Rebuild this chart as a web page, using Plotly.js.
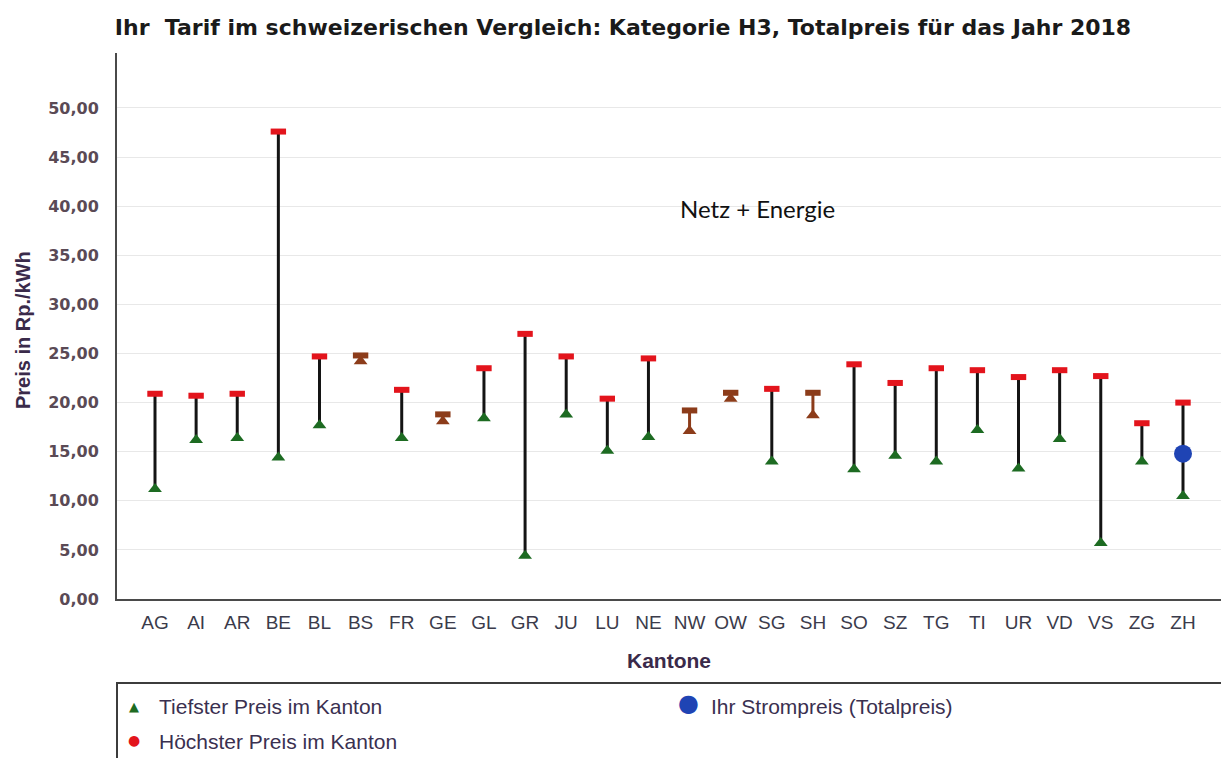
<!DOCTYPE html>
<html>
<head>
<meta charset="utf-8">
<script src="https://cdn.plot.ly/plotly-3.0.1.min.js"></script>
<style>
  html, body { margin: 0; padding: 0; background: #ffffff; }
  #chart { width: 1221px; height: 758px; }
</style>
</head>
<body>
<div id="chart"></div>
<script>
// ---- data ----
const cantons = ['AG','AI','AR','BE','BL','BS','FR','GE','GL','GR','JU','LU','NE','NW','OW','SG','SH','SO','SZ','TG','TI','UR','VD','VS','ZG','ZH'];
const maxPrice = [20.9, 20.7, 20.9, 47.6, 24.7, 24.8, 21.3, 18.8, 23.5, 27.0, 24.7, 20.4, 24.5, 19.2, 21.0, 21.4, 21.0, 23.9, 22.0, 23.5, 23.3, 22.6, 23.3, 22.7, 17.9, 20.0];
const minPrice = [11.2, 16.2, 16.4, 14.4, 17.7, 24.2, 16.4, 18.1, 18.4, 4.4, 18.8, 15.1, 16.5, 17.1, 20.4, 14.0, 18.7, 13.2, 14.6, 14.0, 17.2, 13.3, 16.3, 5.7, 14.0, 10.5];
const narrowCantons = ['BS','GE','NW','OW','SH'];
const ownCanton = ['ZH'];
const ownPrice = [14.8];
const yTickValues = [0, 5, 10, 15, 20, 25, 30, 35, 40, 45, 50];
const yTickLabels = ['0,00','5,00','10,00','15,00','20,00','25,00','30,00','35,00','40,00','45,00','50,00'];
const legendLabels = ['Tiefster Preis im Kanton', 'Höchster Preis im Kanton', 'Ihr Strompreis (Totalpreis)'];
const chartTitle = 'Ihr  Tarif im schweizerischen Vergleich: Kategorie H3, Totalpreis für das Jahr 2018';
const noteText = 'Netz + Energie';

// ---- geometry helpers (pixel -> paper) ----
const W = 1221, H = 758;
const L = 117, R = 0, T = 53, B = 159;
const PW = W - L - R, PH = H - T - B;
const px = x => (x - L) / PW;
const py = y => (H - B - y) / PH;

// ---- colours ----
const cBlack = '#141414', cGreen = '#1d6b22', cRed = '#e3141c', cBrown = '#8c3c1a', cBlue = '#1f44b4';
const cTick = '#5a4a55', cTitle = '#3a2a4a', cLegend = '#3a3050';

// ---- split data ----
function buildLines(filterFn) {
  const xs = [], ys = [];
  cantons.forEach((c, i) => {
    if (filterFn(c)) { xs.push(c, c, null); ys.push(minPrice[i], maxPrice[i], null); }
  });
  return {xs, ys};
}
function pick(arr, filterFn) {
  const xs = [], ys = [];
  cantons.forEach((c, i) => { if (filterFn(c)) { xs.push(c); ys.push(arr[i]); } });
  return {xs, ys};
}
const isNarrow = c => narrowCantons.includes(c);
const isWide = c => !narrowCantons.includes(c);

const wideLines = buildLines(isWide);
const narrowLines = buildLines(isNarrow);
const wideMin = pick(minPrice, isWide), wideMax = pick(maxPrice, isWide);
const narrowMin = pick(minPrice, isNarrow), narrowMax = pick(maxPrice, isNarrow);

const traces = [
  {x: wideLines.xs, y: wideLines.ys, type: 'scatter', mode: 'lines', line: {color: cBlack, width: 3}, connectgaps: false},
  {x: narrowLines.xs, y: narrowLines.ys, type: 'scatter', mode: 'lines', line: {color: cBrown, width: 3}, connectgaps: false},
  {x: wideMin.xs, y: wideMin.ys, type: 'scatter', mode: 'markers', marker: {symbol: 'triangle-up', size: 12, color: cGreen}},
  {x: narrowMin.xs, y: narrowMin.ys, type: 'scatter', mode: 'markers', marker: {symbol: 'triangle-up', size: 12, color: cBrown}},
  {x: wideMax.xs, y: wideMax.ys, type: 'scatter', mode: 'markers', marker: {symbol: 'line-ew', size: 11, color: cRed, line: {color: cRed, width: 6}}},
  {x: narrowMax.xs, y: narrowMax.ys, type: 'scatter', mode: 'markers', marker: {symbol: 'line-ew', size: 11, color: cBrown, line: {color: cBrown, width: 6}}},
  {x: ownCanton, y: ownPrice, type: 'scatter', mode: 'markers', marker: {symbol: 'circle', size: 18, color: cBlue}}
];

const annotations = [
  {text: 'Preis in Rp./kWh', xref: 'paper', yref: 'paper', x: px(23), y: py(330), xanchor: 'center', yanchor: 'middle', textangle: -90, showarrow: false,
   font: {family: 'Liberation Sans, Arial, sans-serif', size: 20, color: cTitle, weight: 'bold'}},
  {text: 'Kantone', xref: 'paper', yref: 'paper', x: px(669), y: py(660), xanchor: 'center', yanchor: 'middle', showarrow: false,
   font: {family: 'Liberation Sans, Arial, sans-serif', size: 21, color: cTitle, weight: 'bold'}},
  {text: noteText, xref: 'paper', yref: 'paper', x: px(678), y: py(208), xanchor: 'left', yanchor: 'middle', showarrow: false,
   font: {family: 'Lato, sans-serif', size: 24, color: '#111111'}},
  // legend glyphs
  {text: '▲', xref: 'paper', yref: 'paper', x: px(134), y: py(706), xanchor: 'center', yanchor: 'middle', showarrow: false,
   font: {family: 'DejaVu Sans', size: 13, color: cGreen}},
  {text: '●', xref: 'paper', yref: 'paper', x: px(134), y: py(740), xanchor: 'center', yanchor: 'middle', showarrow: false,
   font: {family: 'DejaVu Sans', size: 14, color: cRed}},
  {text: '●', xref: 'paper', yref: 'paper', x: px(688), y: py(703), xanchor: 'center', yanchor: 'middle', showarrow: false,
   font: {family: 'DejaVu Sans', size: 24, color: cBlue}},
  // legend texts
  {text: legendLabels[0], xref: 'paper', yref: 'paper', x: px(157), y: py(706), xanchor: 'left', yanchor: 'middle', showarrow: false,
   font: {family: 'Liberation Sans, Arial, sans-serif', size: 21, color: cLegend}},
  {text: legendLabels[1], xref: 'paper', yref: 'paper', x: px(157), y: py(741), xanchor: 'left', yanchor: 'middle', showarrow: false,
   font: {family: 'Liberation Sans, Arial, sans-serif', size: 21, color: cLegend}},
  {text: legendLabels[2], xref: 'paper', yref: 'paper', x: px(709), y: py(706), xanchor: 'left', yanchor: 'middle', showarrow: false,
   font: {family: 'Liberation Sans, Arial, sans-serif', size: 21, color: cLegend}}
];

const shapes = [
  {type: 'rect', xref: 'paper', yref: 'paper', x0: px(117), x1: px(1230), y0: py(683), y1: py(770),
   line: {color: '#3c3c3c', width: 2}, fillcolor: 'rgba(0,0,0,0)'}
];

const layout = {
  width: W, height: H,
  margin: {l: L, r: R, t: T, b: B, pad: 0},
  paper_bgcolor: '#ffffff', plot_bgcolor: '#ffffff',
  showlegend: false,
  hovermode: false,
  title: {text: chartTitle, x: 623 / W, xanchor: 'center', y: 1 - 27 / H, yanchor: 'middle', xref: 'container', yref: 'container',
          font: {family: 'DejaVu Sans, sans-serif', size: 22, color: '#1a1a1a', weight: 'bold'}},
  xaxis: {
    type: 'category', categoryorder: 'array', categoryarray: cantons,
    range: [-0.924, cantons.length - 1 + 0.924],
    showgrid: false, zeroline: false,
    showline: true, linecolor: '#4a4a4a', linewidth: 2,
    ticks: 'outside', ticklen: 5, tickcolor: 'rgba(0,0,0,0)',
    tickfont: {family: 'Liberation Sans, Arial, sans-serif', size: 19, color: '#3b3b4b'},
    fixedrange: true
  },
  yaxis: {
    range: [0, 55.6],
    tickvals: yTickValues, ticktext: yTickLabels,
    showgrid: true, gridcolor: '#e8e8e8', gridwidth: 1,
    zeroline: false,
    showline: true, linecolor: '#4a4a4a', linewidth: 2,
    ticks: 'outside', ticklen: 13, tickcolor: 'rgba(0,0,0,0)',
    tickfont: {family: 'DejaVu Sans, sans-serif', size: 16, color: cTick, weight: 'bold'},
    fixedrange: true
  },
  annotations: annotations,
  shapes: shapes
};

Plotly.newPlot('chart', traces, layout, {staticPlot: true, displayModeBar: false});
</script>
</body>
</html>
